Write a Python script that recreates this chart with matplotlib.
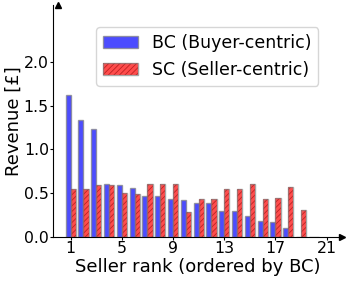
import numpy as np
import matplotlib
matplotlib.use("Agg")
import matplotlib.pyplot as plt
from matplotlib.legend_handler import HandlerTuple

# revenue per seller, sellers ordered by BC revenue
ranks = np.arange(1, 21)
bc_revenue = [1.62, 1.34, 1.23, 0.60, 0.59, 0.56, 0.47, 0.46, 0.435, 0.42,
              0.38, 0.38, 0.29, 0.29, 0.24, 0.18, 0.17, 0.10, 0.0, 0.0]
sc_revenue = [0.55, 0.55, 0.59, 0.59, 0.50, 0.49, 0.60, 0.60, 0.60, 0.28,
              0.43, 0.43, 0.54, 0.54, 0.60, 0.43, 0.44, 0.565, 0.31, 0.0]
xticks = [1, 5, 9, 13, 17, 21]
yticks = [0.0, 0.5, 1.0, 1.5, 2.0]

plt.rcParams["hatch.linewidth"] = 0.6

fig = plt.figure(figsize=(3.49, 2.81), dpi=100)
ax = fig.add_axes([0.153, 0.158, 0.827, 0.824])

w = 0.4
bc = ax.bar(ranks - w / 2, bc_revenue, width=w, color="blue", alpha=0.7,
            edgecolor="gray")
# hatch colour follows edgecolor, so draw the hatch and the outline separately
sc_fill = ax.bar(ranks + w / 2, sc_revenue, width=w, color="red", alpha=0.7,
                 edgecolor="#a01010", hatch="//////", linewidth=0)
sc_edge = ax.bar(ranks + w / 2, sc_revenue, width=w, fill=False,
                 edgecolor="gray", alpha=0.7)

ax.set_xlim(-0.35, 22.2)
ax.set_ylim(0, 2.65)
ax.set_xticks(xticks)
ax.set_yticks(yticks)
ax.tick_params(labelsize=11.3, length=2, pad=1.3)
ax.set_xlabel("Seller rank (ordered by BC)", fontsize=13, labelpad=1)
ax.set_ylabel("Revenue [£]", fontsize=13, labelpad=1)

ax.spines["top"].set_visible(False)
ax.spines["right"].set_visible(False)
# arrow heads at the ends of the axes
ax.plot(1, 0, ">k", markersize=4, transform=ax.get_yaxis_transform(), clip_on=False)
ax.plot(0, 1, "^k", markersize=4, transform=ax.get_xaxis_transform(), clip_on=False)

ax.legend([bc, (sc_fill, sc_edge)], ["BC (Buyer-centric)", "SC (Seller-centric)"],
          handler_map={tuple: HandlerTuple(ndivide=1, pad=0)},
          loc="upper right", fontsize=12.5, bbox_to_anchor=(0.917, 0.905),
          borderaxespad=0)

fig.savefig("out.png", dpi=100)
